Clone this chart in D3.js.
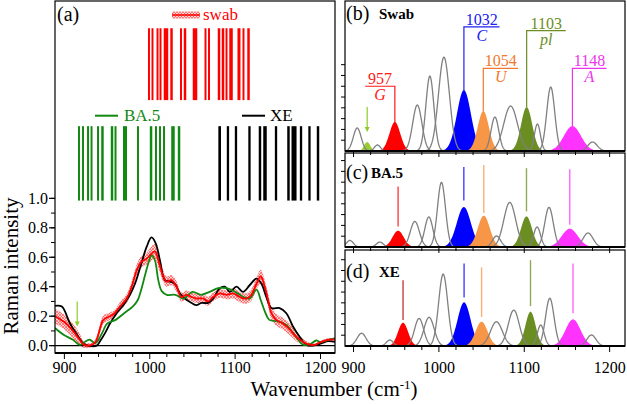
<!DOCTYPE html>
<html>
<head>
<meta charset="utf-8">
<script src="https://cdn.jsdelivr.net/npm/d3@7"></script>
<style>
body { margin: 0; background: #fff; }
svg text { font-family: "Liberation Serif", Tinos, "Times New Roman", Times, serif; }
</style>
</head>
<body>
<script>
var width = 627, height = 404;

// ---- panel (a): averaged spectra, [wavenumber, intensity]
var xeSpec = [[889,0.27],[897,0.265],[906.6,0.15],[916.4,0.06],[922,0.015],[928,0],[937.8,0],[941.7,0.03],
  [947.6,0.085],[953.4,0.15],[961.2,0.22],[969,0.275],[976.8,0.345],[982.7,0.42],[988.5,0.525],[996.3,0.67],
  [1002,0.735],[1007,0.695],[1011.9,0.58],[1017.7,0.445],[1023.6,0.435],[1029.4,0.42],[1035.3,0.355],[1041,0.32],
  [1049,0.29],[1054.8,0.275],[1060.6,0.29],[1068.4,0.29],[1074.3,0.32],[1082,0.39],[1088,0.40],[1093.8,0.365],
  [1101.6,0.40],[1109.4,0.365],[1117,0.41],[1125,0.455],[1130.8,0.42],[1136.6,0.33],[1142.5,0.255],[1152.2,0.255],
  [1160,0.22],[1167.8,0.13],[1175.6,0.06],[1183.4,0.005],[1191,0],[1201,0.015],[1209,0.03],[1217,0.025]];

var ba5Spec = [[889,0.12],[900,0.07],[910,0.04],[918,0.005],[925,0.03],[930,0.04],[936,0.015],[940,0.04],
  [945,0.095],[950,0.15],[960,0.175],[970,0.22],[980,0.265],[986,0.31],[990,0.38],[995,0.49],[1000,0.59],
  [1002,0.615],[1006,0.58],[1010,0.445],[1014,0.37],[1020,0.345],[1030,0.345],[1040,0.32],[1050,0.365],
  [1060,0.345],[1070,0.365],[1080,0.39],[1090,0.39],[1100,0.365],[1110,0.33],[1117,0.32],[1125,0.38],
  [1130,0.31],[1135,0.23],[1140,0.175],[1150,0.165],[1160,0.14],[1170,0.07],[1180,0.005],[1188,0.01],
  [1195,0.035],[1200,0.025],[1210,0.04],[1217,0.05]];

// swab: [wavenumber, mean, sd]
var swabSpec = [[889,0.2,0.05],[900,0.16,0.05],[910,0.1,0.05],[918,0.04,0.04],[923,0.005,0.02],[932,0.005,0.015],
  [937,0.03,0.02],[941,0.1,0.03],[945.6,0.175,0.03],[953.4,0.2,0.025],[959,0.22,0.025],[965,0.265,0.03],
  [973,0.32,0.03],[978.8,0.4,0.035],[984.6,0.51,0.04],[990.4,0.57,0.04],[996.3,0.59,0.04],[1002,0.625,0.05],
  [1006,0.64,0.05],[1011,0.56,0.05],[1015.8,0.47,0.04],[1019.7,0.435,0.035],[1025.5,0.445,0.035],
  [1031.4,0.4,0.035],[1037,0.33,0.03],[1043,0.345,0.03],[1049,0.33,0.03],[1054.8,0.32,0.03],[1062.6,0.32,0.03],
  [1068.4,0.3,0.03],[1074,0.33,0.03],[1082,0.355,0.03],[1090,0.345,0.03],[1097.7,0.355,0.035],[1105.5,0.33,0.035],
  [1113,0.32,0.035],[1119,0.345,0.04],[1125,0.42,0.04],[1130,0.47,0.045],[1134.7,0.4,0.045],[1138.6,0.31,0.045],
  [1142.5,0.22,0.045],[1148,0.175,0.04],[1156,0.15,0.04],[1164,0.11,0.04],[1171.7,0.06,0.03],[1179.5,0.027,0.02],
  [1185,0.01,0.015],[1193,0.005,0.01],[1199,0.02,0.01],[1207,0.038,0.01],[1217,0.043,0.01]];

var yTicksA = [0, 0.2, 0.4, 0.6, 0.8, 1.0];
var xTickLabels = [900, 1000, 1100, 1200];

// barcodes: [wavenumber, width]
var swabCode = [[999.1,2.3],[1003.2,2.3],[1009.1,2.3],[1012.6,2.3],[1019,5.3],[1025.5,2.9],[1036.6,2.3],
  [1041.3,2.9],[1053,5.3],[1065.3,2.3],[1069.4,2.3],[1081.1,2.9],[1085.8,2.9],[1089.9,2.3],[1095.2,4.1],
  [1104.5,3.5],[1109.8,2.3],[1115.7,2.9]];
var ba5Code = [[917.1,2.3],[921.8,2.3],[927.7,2.3],[931.8,2.3],[939.4,2.3],[944.6,2.9],[955.8,2.9],[959.9,2.3],
  [971,4.7],[986.2,2.3],[1001.5,2.9],[1007.3,2.3],[1012,2.3],[1016.7,2.3],[1027.2,4.1],[1034.3,2.9]];
var xeCode = [[1081.9,3.1],[1091.6,2.7],[1101,2.7],[1116.8,2.7],[1129.1,2.9],[1135,4.1],[1147.9,2.7],
  [1162.5,2.9],[1169,5.9],[1177.2,2.7],[1187.1,2.7],[1197.1,2.9]];

// ---- panels (b)-(d): fitted bands [centre, height, sigma]
var swabGray = [[904.3,2.13,4.6],[928,0.56,3.5],[974.7,4.26,5.4],[989.4,6.94,4.7],[1005.9,8.7,6.4],
  [1065.6,3.15,4.5],[1084,4.17,8.0],[1115.4,2.5,3.5],[1131,5.93,4.7],[1180,0.83,5.5]];
var swabBands = [[948.4,2.69,6.3],[1029.3,5.65,8.2],[1052,3.7,6.5],[1102.8,4.07,6.5],[1156.4,2.31,10]];
var swabExtra = [916,0.83,3.6];

var ba5Gray = [[895.7,0.61,4],[930.8,0.46,4],[971.8,2.37,5.3],[988.2,2.78,4.7],[1003,5.98,4.7],
  [1067.5,1.02,4.7],[1083,4.13,7],[1115,1.85,4],[1129,3.67,5],[1174.7,1.3,5.8]];
var ba5Bands = [[952.2,1.51,6.5],[1029.2,3.7,8.2],[1052.6,2.9,7],[1102.6,2.83,6.4],[1153.3,1.69,9.4]];

var xeGray = [[909.4,1.18,5.3],[942.5,0.56,4],[976.8,2.56,5.3],[988.5,2.66,5.9],[1005,6.67,5.3],
  [1067.4,2.25,7],[1087.7,3.33,6.4],[1119.3,1.94,4],[1129.9,4.42,5],[1178.7,1.02,5.3]];
var xeBands = [[958,2.16,5.9],[1029.5,4.05,7.6],[1050,2.25,7],[1107.3,3.18,5.9],[1157.1,2.47,8.8]];

var bandNames = ["957", "1032", "1054", "1103", "1148"];
var bandLetters = ["G", "C", "U", "pl", "A"];
var bandColors = ["#ff0000", "#0000ff", "#f79646", "#6b8e23", "#ff33ff"];
var labelColors = ["#ff1a1a", "#2020f0", "#f07a30", "#6b8e23", "#ee33ee"];
// swab labels: [bracket level, far end of bracket]
var swabBrackets = [[6.0,913.7],[11.5,1071],[7.66,1092.7],[11.15,1148.6],[7.66,1196.3]];
// marker lines in (c) and (d): [top, bottom]
var ba5Marks = [[5.6,1.9],[7.4,4.3],[7.6,3.15],[7.3,3.3],[7.2,2.06]];
var xeMarks = [[6.1,2.4],[7.66,4.5],[7.29,2.7],[7.96,3.7],[7.66,3.03]];

var SERIF = '"Liberation Serif", Tinos, "Times New Roman", Times, serif';

var svg = d3.select("body").append("svg")
  .attr("width", width).attr("height", height);

function txt(g, x, y, s, size) {
  return g.append("text").attr("x", x).attr("y", y)
    .attr("font-family", SERIF).attr("font-size", size).text(s);
}

var defs = svg.append("defs");
var pat = defs.append("pattern").attr("id", "hatch")
  .attr("width", 3).attr("height", 3).attr("patternUnits", "userSpaceOnUse");
pat.append("rect").attr("width", 3).attr("height", 3).attr("fill", "#ffd6d6");
pat.append("path").attr("d", "M0,0L3,3M3,0L0,3")
  .attr("stroke", "#ff4040").attr("stroke-width", 0.6);

// ================= panel (a)
var xA = d3.scaleLinear().domain([889, 1217]).range([55, 335]);
var yA = d3.scaleLinear().domain([-0.05, 2.34]).range([353, 1]);

var gA = svg.append("g");
defs.append("clipPath").attr("id", "clipA").append("rect")
  .attr("x", 55).attr("y", 1).attr("width", 280).attr("height", 352);

var plotA = gA.append("g").attr("clip-path", "url(#clipA)");

plotA.append("path").datum(swabSpec)
  .attr("fill", "url(#hatch)")
  .attr("d", d3.area().curve(d3.curveCatmullRom)
    .x(function(d) { return xA(d[0]); })
    .y0(function(d) { return yA(d[1] - d[2]); })
    .y1(function(d) { return yA(d[1] + d[2]); }));

var lineA = d3.line().curve(d3.curveCatmullRom)
  .x(function(d) { return xA(d[0]); })
  .y(function(d) { return yA(d[1]); });

plotA.append("line").attr("x1", 55).attr("x2", 335)
  .attr("y1", yA(0)).attr("y2", yA(0)).attr("stroke", "#000").attr("stroke-width", 1.3);

plotA.append("path").datum(xeSpec).attr("d", lineA)
  .attr("fill", "none").attr("stroke", "#000").attr("stroke-width", 1.8);
plotA.append("path").datum(ba5Spec).attr("d", lineA)
  .attr("fill", "none").attr("stroke", "#118811").attr("stroke-width", 1.8);
plotA.append("path").datum(swabSpec).attr("d", lineA)
  .attr("fill", "none").attr("stroke", "#ff0000").attr("stroke-width", 1.8);

// barcodes
function drawCode(data, top, bottom, color) {
  gA.append("g").selectAll("rect").data(data).enter().append("rect")
    .attr("x", function(d) { return xA(d[0] - d[1] / 2); })
    .attr("width", function(d) { return xA(d[0] + d[1] / 2) - xA(d[0] - d[1] / 2); })
    .attr("y", yA(top)).attr("height", yA(bottom) - yA(top))
    .attr("fill", color);
}
drawCode(swabCode, 2.155, 1.667, "#ff0000");
drawCode(ba5Code, 1.49, 0.985, "#118811");
drawCode(xeCode, 1.49, 0.985, "#000");

// legends
gA.append("rect").attr("x", 172).attr("y", 11.5).attr("width", 28).attr("height", 7)
  .attr("fill", "url(#hatch)");
gA.append("line").attr("x1", 172).attr("x2", 200).attr("y1", 15).attr("y2", 15)
  .attr("stroke", "#ff0000").attr("stroke-width", 1.5);
txt(gA, 203, 20, "swab", 17).attr("fill", "#ff0000");
gA.append("line").attr("x1", 95).attr("x2", 118).attr("y1", 115.7).attr("y2", 115.7)
  .attr("stroke", "#118811").attr("stroke-width", 2);
txt(gA, 124, 121, "BA.5", 17).attr("fill", "#118811");
gA.append("line").attr("x1", 242).attr("x2", 265).attr("y1", 115.7).attr("y2", 115.7)
  .attr("stroke", "#000").attr("stroke-width", 2);
txt(gA, 270, 121, "XE", 17).attr("fill", "#000");

// green arrow marking the 916 band
function arrow(g, x, y1, y2, color) {
  g.append("line").attr("x1", x).attr("x2", x).attr("y1", y1).attr("y2", y2 - 4)
    .attr("stroke", color).attr("stroke-width", 1.2);
  g.append("path").attr("d", "M" + (x - 2.5) + "," + (y2 - 5) + "L" + (x + 2.5) + "," + (y2 - 5) + "L" + x + "," + y2 + "Z")
    .attr("fill", color);
}
arrow(gA, xA(915), yA(0.3), yA(0.13), "#8fcc2a");

// frame and axes
gA.append("rect").attr("x", 55).attr("y", 1).attr("width", 280).attr("height", 352)
  .attr("fill", "none").attr("stroke", "#000").attr("stroke-width", 1.2);
gA.append("line").attr("x1", 55).attr("x2", 335).attr("y1", 353).attr("y2", 353)
  .attr("stroke", "#000").attr("stroke-width", 2);

var axYA = gA.append("g");
axYA.selectAll("line.minor").data(d3.range(0, 1.01, 0.1)).enter().append("line")
  .attr("x1", 51).attr("x2", 55)
  .attr("y1", function(d) { return yA(d); }).attr("y2", function(d) { return yA(d); })
  .attr("stroke", "#000").attr("stroke-width", 1);
axYA.selectAll("line.major").data(yTicksA).enter().append("line")
  .attr("x1", 49).attr("x2", 55)
  .attr("y1", function(d) { return yA(d); }).attr("y2", function(d) { return yA(d); })
  .attr("stroke", "#000").attr("stroke-width", 1.2);
yTicksA.forEach(function(d) {
  txt(axYA, 48, yA(d) + 5.5, d3.format(".1f")(d), 16).attr("text-anchor", "end");
});

function xTicksBottom(g, x, y0, withLabels) {
  g.append("g").selectAll("line").data(d3.range(900, 1217, 20)).enter().append("line")
    .attr("x1", function(d) { return x(d); }).attr("x2", function(d) { return x(d); })
    .attr("y1", y0).attr("y2", function(d) { return d % 100 === 0 ? y0 + 6 : y0 + 4; })
    .attr("stroke", "#000").attr("stroke-width", 1);
  if (withLabels) {
    xTickLabels.forEach(function(d) {
      txt(g, x(d), 373, d, 16).attr("text-anchor", "middle");
    });
  }
}
xTicksBottom(gA, xA, 353, true);

txt(gA, 57, 21, "(a)", 20);

txt(svg, 0, 0, "Raman intensity", 21)
  .attr("x", null).attr("y", null)
  .attr("transform", "translate(18,266) rotate(-90)")
  .attr("text-anchor", "middle");

var xl = txt(svg, 334, 396, "", 21).attr("text-anchor", "middle");
xl.append("tspan").text("Wavenumber (cm");
xl.append("tspan").attr("dy", -7).attr("font-size", 13).text("-1");
xl.append("tspan").attr("dy", 7).text(")");

// ================= panels (b)-(d)
var xR = d3.scaleLinear().domain([890, 1218]).range([345, 625]);

function gauss(p) {
  var c = p[0], h = p[1], s = p[2];
  return d3.range(c - 4 * s, c + 4 * s + 0.01, s / 10).map(function(x) {
    return [x, h * Math.exp(-(x - c) * (x - c) / (2 * s * s))];
  });
}

var panels = [
  { top: 1, bottom: 151, max: 13.9, gray: swabGray, bands: swabBands, tag: "(b)", name: "Swab", ty: 19.5 },
  { top: 153, bottom: 247, max: 8.7, gray: ba5Gray, bands: ba5Bands, tag: "(c)", name: "BA.5", marks: ba5Marks, ty: 179 },
  { top: 250, bottom: 346, max: 8.9, gray: xeGray, bands: xeBands, tag: "(d)", name: "XE", marks: xeMarks, ty: 278 }
];

panels.forEach(function(p, i) {
  var y = d3.scaleLinear().domain([0, p.max]).range([p.bottom, p.top]);
  var g = svg.append("g");
  var cid = "clipP" + i;
  defs.append("clipPath").attr("id", cid).append("rect")
    .attr("x", 345).attr("y", p.top).attr("width", 280).attr("height", p.bottom - p.top);
  var plot = g.append("g").attr("clip-path", "url(#" + cid + ")");

  var area = d3.area().x(function(d) { return xR(d[0]); })
    .y0(y(0)).y1(function(d) { return y(d[1]); });
  var line = d3.line().x(function(d) { return xR(d[0]); })
    .y(function(d) { return y(d[1]); });

  plot.selectAll("path.band").data(p.bands).enter().append("path")
    .attr("d", function(d) { return area(gauss(d)); })
    .attr("fill", function(d, j) { return bandColors[j]; });
  if (i === 0) {
    plot.append("path").attr("d", area(gauss(swabExtra))).attr("fill", "#99cc33");
  }
  plot.selectAll("path.gray").data(p.gray).enter().append("path")
    .attr("d", function(d) { return line(gauss(d)); })
    .attr("fill", "none").attr("stroke", "#808080").attr("stroke-width", 1.3);

  if (p.marks) {
    plot.selectAll("line.mark").data(p.marks).enter().append("line")
      .attr("x1", function(d, j) { return xR(p.bands[j][0]); })
      .attr("x2", function(d, j) { return xR(p.bands[j][0]); })
      .attr("y1", function(d) { return y(d[0]); }).attr("y2", function(d) { return y(d[1]); })
      .attr("stroke", function(d, j) { return (i === 2 && j === 0) ? "#b00000" : bandColors[j]; })
      .attr("stroke-opacity", 0.75).attr("stroke-width", 1.4);
  } else {
    swabBrackets.forEach(function(b, j) {
      var xc = xR(p.bands[j][0]), xe = xR(b[1]);
      g.append("path")
        .attr("d", "M" + xc + "," + y(p.bands[j][1]) + "V" + y(b[0]) + "H" + xe)
        .attr("fill", "none").attr("stroke", labelColors[j]).attr("stroke-width", 1.2);
      var xm = (xc + xe) / 2;
      txt(g, xm, y(b[0]) - 2, bandNames[j], 16)
        .attr("text-anchor", "middle").attr("fill", labelColors[j]);
      txt(g, xm, y(b[0]) + 14, bandLetters[j], 16)
        .attr("text-anchor", "middle").attr("fill", labelColors[j]).attr("font-style", "italic");
    });
    arrow(g, xR(swabExtra[0]), 107, 132, "#8fcc2a");
  }

  g.append("rect").attr("x", 345).attr("y", p.top).attr("width", 280).attr("height", p.bottom - p.top)
    .attr("fill", "none").attr("stroke", "#000").attr("stroke-width", 1.2);
  g.append("line").attr("x1", 345).attr("x2", 625).attr("y1", p.bottom).attr("y2", p.bottom)
    .attr("stroke", "#000").attr("stroke-width", 2);
  g.append("g").selectAll("line").data(d3.range(1, 9)).enter().append("line")
    .attr("x1", 341).attr("x2", 345)
    .attr("y1", function(d) { return y(d); }).attr("y2", function(d) { return y(d); })
    .attr("stroke", "#000").attr("stroke-width", 1);
  xTicksBottom(g, xR, p.bottom, i === 2);

  txt(g, 346, p.ty, p.tag, 20);
  txt(g, 346 + (i === 1 ? 25 : 33), p.ty - 1, p.name, 15).attr("font-weight", "bold");
});
</script>
</body>
</html>
